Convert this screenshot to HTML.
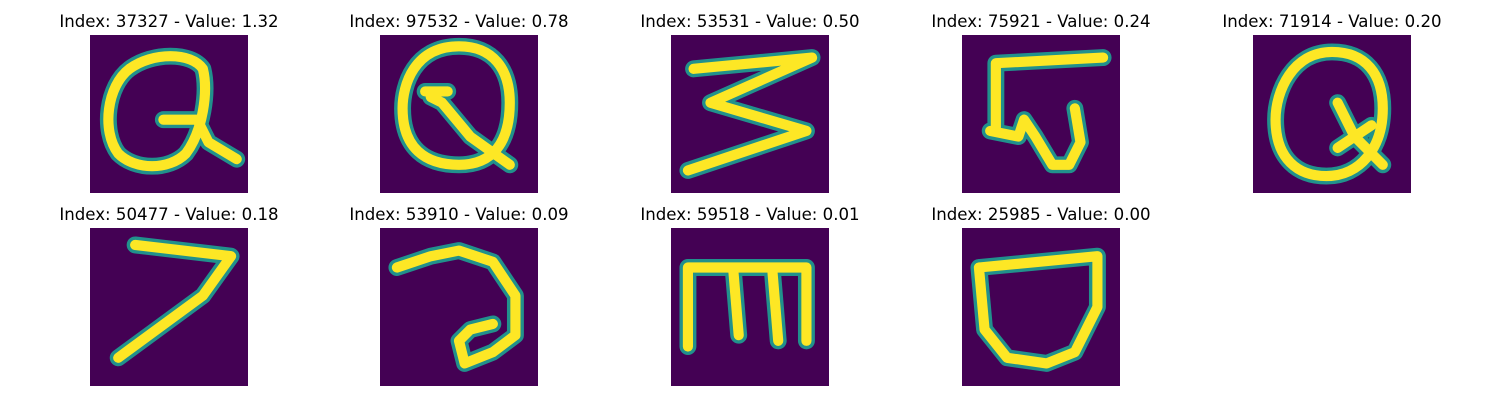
<!DOCTYPE html>
<html><head><meta charset="utf-8"><style>
body{margin:0;width:1500px;height:400px;background:#fff;overflow:hidden;font-family:"DejaVu Sans","Liberation Sans",sans-serif;}
svg{position:absolute;left:0;top:0}
</style></head><body>
<svg id="fig" width="1500" height="400"></svg>
<script>
const indices=[37327,97532,53531,75921,71914,50477,53910,59518,25985];
const values=[1.32,0.78,0.50,0.24,0.20,0.18,0.09,0.01,0.00];
const strokes=[
"M7,6 C3,9 2,17 5,21 C8,24 14,24 17,21 C20,17 21,10 20,6 C18,3 11,3 7,6 M13,15 L19,15 L21,19 L26,22",
"M14,2 C6,2 4,9 4,13 C4,20 8,23 14,23 C20,23 23,19 23,12 C23,6 20,2 14,2 M9,11 L11,12 L16,18 L23,23 M8,10 L12,10",
"M4,6 L25,4 L7,12 L24,17 L3,24",
"M6,17 L6,5 L25,4 M5,17 L10,18 L11,15 L13,18 L16,23 L19,23 L21,19 L20,13",
"M14,3 C7,3 4,10 4,15 C4,22 8,25 13,25 C19,25 23,20 23,13 C23,7 20,3 14,3 M15,12 L18,18 L23,23 M15,20 L21,16",
"M8,3 L25,5 L20,12 L5,23",
"M3,7 L9,5 L14,4 L20,6 L24,12 L24,19 L20,22 L15,24 L14,20 L16,18 L20,17",
"M3,21 L3,7 L24,7 L24,20 M11,7 L12,19 M18,8 L19,20",
"M3,7 L24,5 L24,14 L20,22 L15,24 L8,23 L4,18 L3,7"];
const colX=[90,380,671,962,1253], rowY=[35,228], S=158;
const svg=document.getElementById('fig'), NS='http://www.w3.org/2000/svg';
indices.forEach((idx,i)=>{
  const x=colX[i%5], y=rowY[Math.floor(i/5)];
  const g=document.createElementNS(NS,'g');
  
  
  const t=document.createElementNS(NS,'text');
  t.setAttribute('x',x+S/2);t.setAttribute('y',y-8);t.setAttribute('text-anchor','middle');
  t.setAttribute('font-size','16.6');
  t.textContent='Index: '+idx+' - Value: '+values[i].toFixed(2);
  
  
  g.appendChild(t);
  const inner=document.createElementNS(NS,'svg');
  inner.setAttribute('x',x);inner.setAttribute('y',y);inner.setAttribute('width',S);inner.setAttribute('height',S);
  inner.setAttribute('viewBox','0 0 28 28');
  
  
  inner.innerHTML='<rect width="28" height="28" fill="#440154"/>'+
   '<path d="'+strokes[i]+'" fill="none" stroke="#21918c" stroke-width="3" stroke-linecap="round" stroke-linejoin="round"/>'+
   '<path d="'+strokes[i]+'" fill="none" stroke="#fde725" stroke-width="1.8" stroke-linecap="round" stroke-linejoin="round"/>';
  g.appendChild(inner);
  svg.appendChild(g);
});
</script>
</body></html>
